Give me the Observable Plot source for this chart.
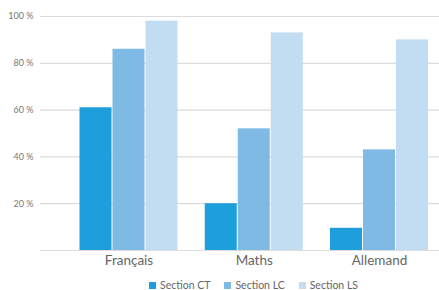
<!DOCTYPE html>
<html>
<head>
<meta charset="utf-8">
<script src="https://cdn.jsdelivr.net/npm/d3@7"></script>
<script src="https://cdn.jsdelivr.net/npm/@observablehq/plot@0.6"></script>
<style>
  html, body { margin: 0; padding: 0; background: #fff; }
  #chart { width: 439px; height: 290px; font-family: Lato, "Open Sans", sans-serif; }
  .legend { display: flex; justify-content: center; align-items: center; height: 14px; margin-top: 6px; padding-left: 68px; font-size: 10.5px; color: #666; }
  .legend .item { display: flex; align-items: center; margin: 0 7px; }
  .legend .sw { width: 7px; height: 7px; margin-right: 4px; display: inline-block; }
</style>
</head>
<body>
<div id="chart"></div>
<script>
const groups = ["Français", "Maths", "Allemand"];
const series = ["Section CT", "Section LC", "Section LS"];
const valuesCT = [61, 20, 9.5];
const valuesLC = [86, 52, 43];
const valuesLS = [98, 93, 90];
const colors = ["#1e9fdb", "#7fbae5", "#c2dcf2"];
const yTicks = [20, 40, 60, 80, 100];

const seriesValues = [valuesCT, valuesLC, valuesLS];
const data = series.flatMap((s, i) => groups.map((g, j) => ({group: g, series: s, value: seriesValues[i][j]})));

const step = 125.25;
const barW = 32;
const gap = 1;
const offset = (step - 3 * barW - 2 * gap) / 2;

const barMarks = series.map((s, i) => {
  const insetLeft = offset + i * (barW + gap);
  const insetRight = step - insetLeft - barW;
  return Plot.barY(data.filter(d => d.series === s), {
    x: "group", y: "value", fill: colors[i], insetLeft, insetRight
  });
});

const plot = Plot.plot({
  width: 439,
  height: 272,
  marginLeft: 40,
  marginRight: 0,
  marginTop: 16,
  marginBottom: 22,
  style: {fontFamily: "Lato, 'Open Sans', sans-serif", background: "#fff"},
  x: {domain: groups, range: [65.875, 65.875 + 3 * step], padding: 0, round: false},
  y: {domain: [0, 100]},
  marks: [
    Plot.gridY(yTicks, {stroke: "#dcdcdc", strokeOpacity: 1, strokeWidth: 1.2}),
    Plot.ruleY([0], {stroke: "#dcdcdc", strokeWidth: 1.2}),
    ...barMarks,
    Plot.axisY(yTicks, {tickSize: 0, tickPadding: 7, tickFormat: d => d + " %", fontSize: 9, fill: "#777", label: null}),
    Plot.axisX({tickSize: 0, tickPadding: 5, fontSize: 13.5, fill: "#666", label: null})
  ]
});

const chart = document.getElementById("chart");
chart.appendChild(plot);

const legend = document.createElement("div");
legend.className = "legend";
series.forEach((s, i) => {
  const item = document.createElement("span");
  item.className = "item";
  const sw = document.createElement("span");
  sw.className = "sw";
  sw.style.background = colors[i];
  const t = document.createElement("span");
  t.textContent = s;
  item.appendChild(sw);
  item.appendChild(t);
  legend.appendChild(item);
});
chart.appendChild(legend);
</script>
</body>
</html>
